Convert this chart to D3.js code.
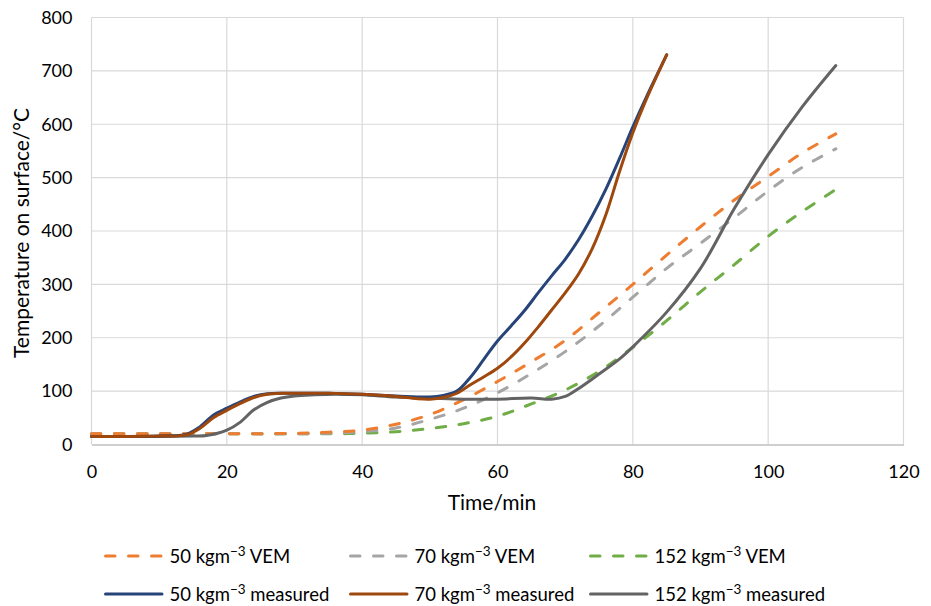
<!DOCTYPE html>
<html>
<head>
<meta charset="utf-8">
<script src="https://cdn.jsdelivr.net/npm/d3@7"></script>
<style>
  html, body { margin: 0; padding: 0; background: #fff; }
  svg { display: block; font-family: Lato, "Open Sans", sans-serif; }
</style>
</head>
<body>
<svg id="chart" width="931" height="606"></svg>
<script>
// ---- data ----
const xTicks = [0, 20, 40, 60, 80, 100, 120];
const yTicks = [0, 100, 200, 300, 400, 500, 600, 700, 800];

const vemTime = [0, 10, 20, 30, 35, 40, 45, 50, 55, 60, 65, 70, 75, 80, 85, 90, 95, 100, 105, 110];
const vem50  = [20, 20, 20, 21, 23, 27, 38, 56, 84, 118, 155, 195, 247, 300, 355, 408, 458, 502, 546, 582];
const vem70  = [20, 20, 20, 20, 21, 24, 31, 47, 68, 97, 133, 174, 222, 276, 330, 377, 425, 475, 519, 554];
const vem152 = [20, 20, 20, 20, 20, 21, 24, 30, 39, 53, 76, 102, 137, 182, 232, 286, 337, 390, 436, 478];

const meas50Time = [0, 10, 14, 16, 18, 20, 22, 24, 26, 28, 30, 35, 40, 45, 50, 52, 54, 56, 58, 60, 62, 64, 66, 68, 70, 72, 74, 76, 78, 80, 82, 85];
const meas50     = [15, 16, 19, 33, 55, 68, 80, 90, 95, 96, 96, 96, 94, 91, 89, 92, 100, 126, 160, 194, 222, 251, 284, 316, 347, 384, 428, 478, 535, 595, 651, 730];

const meas70Time = [0, 10, 14, 16, 18, 20, 22, 24, 26, 28, 30, 35, 40, 45, 48, 50, 52, 54, 56, 58, 60, 62, 64, 66, 68, 70, 72, 74, 76, 78, 80, 82, 85];
const meas70     = [15, 16, 18, 30, 50, 64, 77, 88, 94, 96, 96, 96, 94, 90, 86, 85, 88, 96, 112, 127, 143, 164, 190, 220, 252, 284, 320, 367, 430, 510, 584, 647, 730];

const meas152Time = [0, 10, 15, 17, 20, 22, 24, 26, 28, 30, 33, 36, 40, 45, 50, 55, 60, 65, 68, 70, 72, 75, 78, 80, 85, 90, 95, 100, 105, 110];
const meas152     = [15, 15, 16, 17, 27, 42, 65, 79, 87, 91, 93, 94, 93, 89, 87, 85, 85, 87, 85, 90, 105, 132, 160, 183, 248, 330, 442, 543, 632, 710];

// ---- layout ----
const svg = d3.select("#chart");
const x = d3.scaleLinear().domain([0, 120]).range([91.5, 903.5]);
const y = d3.scaleLinear().domain([0, 800]).range([444.5, 17.5]);

// gridlines
svg.append("g").selectAll("line").data(yTicks.filter(d => d > 0)).join("line")
  .attr("x1", x(0)).attr("x2", x(120))
  .attr("y1", d => y(d)).attr("y2", d => y(d))
  .attr("stroke", "#d9d9d9").attr("stroke-width", 1.2);
svg.append("g").selectAll("line").data(xTicks).join("line")
  .attr("x1", d => x(d)).attr("x2", d => x(d))
  .attr("y1", y(0)).attr("y2", y(800))
  .attr("stroke", "#d9d9d9").attr("stroke-width", 1.2);

// x axis
const xAxis = svg.append("g").attr("transform", `translate(0,${y(0)})`)
  .call(d3.axisBottom(x).tickValues(xTicks).tickSize(0).tickPadding(21).tickFormat(d3.format("d")));
xAxis.select(".domain").attr("stroke", "#bfbfbf").attr("stroke-width", 1.3);
xAxis.selectAll("text").attr("font-size", 18).attr("fill", "#000").attr("font-family", "Lato, sans-serif");

// y axis
const yAxis = svg.append("g").attr("transform", `translate(${x(0)},0)`)
  .call(d3.axisLeft(y).tickValues(yTicks).tickSize(0).tickPadding(19).tickFormat(d3.format("d")));
yAxis.select(".domain").remove();
yAxis.selectAll("text").attr("font-size", 18).attr("fill", "#000").attr("font-family", "Lato, sans-serif");

// axis titles
svg.append("text").attr("x", 492).attr("y", 510)
  .attr("text-anchor", "middle").attr("font-size", 21).text("Time/min");
svg.append("text").attr("transform", `translate(29,${(y(0) + y(800)) / 2 + 2}) rotate(-90)`)
  .attr("text-anchor", "middle").attr("font-size", 21).text("Temperature on surface/°C");

// series
const curve = d3.curveCatmullRom.alpha(0.5);
const lineGen = d3.line().x(d => x(d[0])).y(d => y(d[1])).curve(curve);

const series = [
  { t: vemTime, v: vem50,  color: "#ED7D31", dash: true,  label: "50 kgm", suffix: " VEM" },
  { t: vemTime, v: vem70,  color: "#A5A5A5", dash: true,  label: "70 kgm", suffix: " VEM" },
  { t: vemTime, v: vem152, color: "#70AD47", dash: true,  label: "152 kgm", suffix: " VEM" },
  { t: meas50Time,  v: meas50,  color: "#264478", dash: false, label: "50 kgm", suffix: " measured" },
  { t: meas70Time,  v: meas70,  color: "#9E480E", dash: false, label: "70 kgm", suffix: " measured" },
  { t: meas152Time, v: meas152, color: "#636363", dash: false, label: "152 kgm", suffix: " measured" }
];

const DASH = "9.5,13.5";
const drawOrder = [2, 1, 0, 5, 3, 4];
drawOrder.forEach(i => {
  const s = series[i];
  const pts = s.t.map((t, k) => [t, s.v[k]]);
  svg.append("path").datum(pts)
    .attr("d", lineGen)
    .attr("fill", "none")
    .attr("stroke", s.color)
    .attr("stroke-width", 3)
    .attr("stroke-linecap", "round")
    .attr("stroke-linejoin", "round")
    .attr("stroke-dasharray", s.dash ? DASH : null);
});

// legend
const legX = [104, 349, 589];
const legY = [556, 594];
series.forEach((s, i) => {
  const col = i % 3, row = Math.floor(i / 3);
  const g = svg.append("g").attr("transform", `translate(${legX[col]},${legY[row]})`);
  g.append("line").attr("x1", 1.5).attr("x2", 58).attr("y1", 0).attr("y2", 0)
    .attr("stroke", s.color).attr("stroke-width", 3)
    .attr("stroke-linecap", "round")
    .attr("stroke-dasharray", s.dash ? DASH : null);
  const txt = g.append("text").attr("x", 65.5).attr("y", 6.5).attr("font-size", 18.5);
  txt.append("tspan").text(s.label);
  txt.append("tspan").attr("dy", -7).attr("font-size", 13.5).text("\u22123");
  txt.append("tspan").attr("dy", 7).text(s.suffix);
});
</script>
</body>
</html>
